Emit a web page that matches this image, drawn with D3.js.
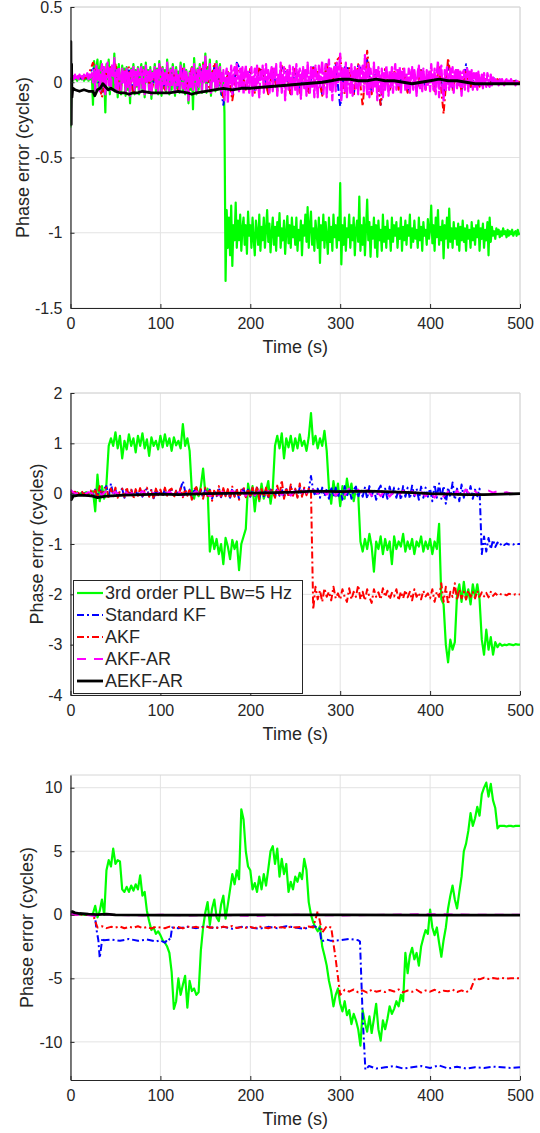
<!DOCTYPE html>
<html><head><meta charset="utf-8">
<script src="https://cdn.jsdelivr.net/npm/d3@7"></script>
<style>
html,body{margin:0;padding:0;background:#fff;}
svg text{font-family:"Liberation Sans",Arial,Helvetica,sans-serif;fill:#262626;}
</style></head>
<body>
<svg id="chart" width="540" height="1133"></svg>
<script>
// ---------------- DATA ----------------
const seriesNames = ["3rd order PLL Bw=5 Hz","Standard KF","AKF","AKF-AR","AEKF-AR"];
const timeTicks = [0,100,200,300,400,500];
const p1YTicks = [-1.5,-1,-0.5,0,0.5];
const p2YTicks = [-4,-3,-2,-1,0,1,2];
const p3YTicks = [-10,-5,0,5,10];

// Panel 1 — uniform samples (1.25 s for PLL / AKF-AR, 5 s for KF / AKF)
const p1Green = [
-0.3,0.03,0.01,0.04,0.02,0.03,0.01,0.04,0.02,0.03,
0.02,0.04,0.01,0.03,0.02,0.04,0.01,0.03,0.02,0.05,
-0.15,0.14,-0.05,0.1,0.15,-0.04,0.08,0.14,-0.06,0.1,
0.05,-0.2,0.12,0.02,0.15,-0.08,0.1,0.06,-0.04,0.19,
-0.06,0.1,-0.1,0.12,0.0,-0.08,0.11,0.03,0.09,-0.09,
0.1,-0.05,0.07,-0.14,0.09,0.02,0.12,-0.08,0.08,-0.03,
0.1,-0.08,0.06,0.12,-0.06,0.1,-0.1,0.13,0.01,0.08,
-0.07,0.1,-0.11,0.07,0.03,0.12,-0.06,0.09,-0.08,0.14,
0.04,-0.09,0.1,-0.04,0.08,-0.07,0.15,0.01,-0.08,0.09,
-0.05,0.12,0.05,-0.09,0.1,-0.04,0.07,-0.07,0.13,0.03,
-0.06,0.12,-0.08,0.08,0.02,-0.14,0.07,-0.05,0.1,-0.18,
0.16,0.03,-0.08,0.09,-0.05,0.12,0.05,-0.07,0.13,0.01,
0.19,-0.07,0.1,0.03,0.15,-0.09,0.07,0.01,0.1,-0.06,
0.14,-0.05,0.08,0.12,-0.08,0.06,0.04,-0.2,-1.32,-0.85,
-1.1,-0.9,-1.15,-0.82,-1.22,-0.95,-1.05,-0.8,-1.1,-0.92,
-1.05,-0.88,-1.12,-0.97,-0.9,-1.08,-0.95,-1.14,-0.86,-1.02,
-0.95,-1.1,-0.9,-1.04,-1.15,-0.92,-1.0,-1.08,-0.88,-1.12,
-0.96,-1.05,-0.9,-1.1,-0.98,-0.85,-1.06,-0.94,-1.13,-1.0,
-0.9,-1.08,-0.96,-1.12,-0.93,-1.02,-0.87,-1.1,-0.97,-1.05,
-0.92,-1.14,-1.0,-0.89,-1.07,-0.95,-1.1,-0.9,-1.03,-0.96,
-1.08,-0.9,-1.12,-0.98,-1.05,-0.92,-1.15,-0.95,-1.02,-0.88,
-1.06,-0.83,-1.1,-0.95,-0.86,-1.08,-0.97,-1.12,-0.92,-1.0,
-1.1,-0.9,-1.2,-0.95,-1.05,-0.88,-1.1,-0.93,-1.02,-1.14,
-0.9,-1.06,-0.96,-1.12,-0.88,-1.03,-0.95,-1.1,-0.9,-1.05,
-0.67,-1.21,-0.95,-1.08,-0.9,-1.12,-0.97,-1.03,-0.88,-1.1,
-0.95,-1.05,-0.9,-1.15,-0.98,-0.92,-1.06,-0.76,-1.12,-0.95,
-1.08,-0.9,-1.15,-0.97,-0.78,-1.05,-0.93,-1.16,-0.96,-1.04,
-0.9,-1.1,-0.95,-1.16,-0.92,-1.05,-0.98,-1.12,-0.88,-1.06,
-0.96,-1.1,-0.92,-1.04,-0.98,-1.12,-0.9,-1.06,-0.95,-1.02,
-0.93,-1.1,-0.97,-1.04,-0.9,-1.12,-0.96,-1.05,-0.92,-1.08,
-0.95,-1.02,-0.88,-1.1,-0.97,-1.06,-0.92,-1.04,-0.98,-1.1,
-0.9,-1.05,-0.96,-1.12,-0.93,-1.02,-0.98,-1.08,-0.91,-1.04,
-0.98,-0.82,-1.07,-0.95,-1.12,-0.9,-1.03,-0.85,-1.08,-0.96,
-1.05,-0.92,-1.17,-0.95,-1.04,-0.9,-1.1,-0.84,-1.06,-0.97,
-1.1,-0.93,-1.04,-0.97,-1.08,-0.94,-1.12,-0.96,-1.05,-0.92,
-1.06,-0.97,-1.12,-0.95,-1.04,-0.98,-1.1,-0.93,-1.05,-0.97,
-1.08,-0.95,-1.03,-0.92,-1.12,-0.97,-1.04,-0.94,-1.1,-0.98,
-1.05,-0.93,-1.15,-0.9,-1.06,-0.96,-1.02,-0.99,-1.04,-0.97,
-1.01,-0.98,-1.03,-0.99,-1.02,-0.97,-1.01,-0.99,-1.03,-0.98,
-1.02,-0.99,-1.01,-0.98,-1.02,-1.0,-0.99,-1.02,-0.98,-1.01,
-1.0];
const p1Blue = [
0.02,0.03,0.03,0.02,0.04,0.1,0.02,-0.08,0.05,0.09,
0.1,-0.05,0.06,0.08,-0.07,0.04,0.07,0.05,-0.05,0.06,
0.09,-0.04,0.07,0.05,-0.05,0.08,-0.03,0.09,0.05,0.08,
0.12,-0.05,0.1,0.04,-0.15,0.06,-0.1,0.13,0.07,-0.04,
0.08,-0.06,0.09,0.05,-0.07,0.08,-0.05,0.1,0.07,-0.08,
0.09,-0.06,0.08,-0.07,0.1,0.06,-0.08,0.12,-0.05,0.12,
-0.16,0.1,0.09,-0.08,0.11,0.08,0.15,-0.07,0.08,-0.15,
0.09,-0.05,0.07,-0.04,0.08,-0.06,0.07,-0.05,0.08,-0.04,
0.07,-0.05,0.09,-0.08,0.12,-0.04,0.07,-0.05,0.12,-0.03,
0.04,-0.03,0.03,-0.02,0.03,0.01,-0.01,0.01,0.0,0.01,
0.0];
const p1Red = [
0.02,0.03,0.04,0.02,0.05,0.13,0.04,-0.1,0.06,0.1,
0.12,-0.06,0.07,0.1,-0.08,0.05,0.08,0.06,-0.06,0.07,
0.1,-0.05,0.08,0.06,-0.06,0.09,-0.04,0.1,0.06,0.09,
0.14,-0.06,0.13,0.05,-0.1,0.07,-0.12,0.06,0.09,-0.05,
0.09,-0.07,0.1,0.06,-0.08,0.09,-0.06,0.11,0.08,-0.09,
0.1,-0.07,0.09,-0.08,0.11,0.07,-0.09,0.13,-0.06,0.14,
0.17,-0.08,0.1,-0.09,0.12,-0.16,0.21,-0.08,0.09,-0.15,
0.1,-0.06,0.08,-0.05,0.09,-0.07,0.08,-0.06,0.09,-0.05,
0.08,-0.06,0.1,-0.21,0.16,-0.05,0.08,-0.06,0.07,-0.04,
0.05,-0.03,0.04,-0.02,0.03,0.02,-0.01,0.01,0.0,0.01,
0.0];
const p1Magenta = [
0.02,0.03,0.04,0.02,0.05,0.03,0.04,0.02,0.05,0.03,
0.04,0.02,0.05,0.03,0.04,0.06,0.02,0.05,0.03,0.06,
0.0,0.08,-0.05,0.11,0.02,0.09,-0.06,0.06,0.12,-0.03,
0.1,-0.08,0.07,0.13,-0.02,0.09,-0.05,0.12,0.04,0.16,
-0.04,0.08,-0.07,0.1,0.02,-0.05,0.09,0.0,0.07,-0.06,
0.09,-0.03,0.06,-0.09,0.08,0.01,0.1,-0.05,0.07,-0.02,
0.09,-0.06,0.05,0.1,-0.04,0.08,-0.08,0.11,0.0,0.07,
-0.05,0.09,-0.09,0.06,0.02,0.1,-0.04,0.08,-0.06,0.12,
0.03,-0.07,0.09,-0.02,0.07,-0.05,0.13,0.0,-0.06,0.08,
-0.03,0.1,0.04,-0.07,0.09,-0.02,0.06,-0.05,0.11,0.02,
-0.04,0.1,-0.06,0.07,0.01,-0.12,0.06,-0.03,0.09,-0.05,
0.12,0.02,-0.06,0.08,-0.03,0.1,0.04,-0.05,0.11,0.0,
0.17,-0.05,0.09,0.02,0.12,-0.07,0.06,0.0,0.08,-0.04,
0.12,-0.03,0.07,0.1,-0.06,0.05,0.08,-0.12,0.04,0.09,
-0.14,0.06,-0.02,0.11,-0.08,0.07,0.1,-0.05,0.12,0.02,
-0.06,0.09,-0.03,0.1,-0.08,0.05,0.11,-0.04,0.08,-0.07,
0.06,0.1,-0.09,0.03,0.09,-0.05,0.11,0.0,-0.1,0.07,
0.02,0.11,-0.07,0.06,0.12,-0.04,0.08,-0.08,0.05,0.1,
-0.06,0.09,0.02,0.12,-0.09,0.06,-0.02,0.13,-0.07,0.05,
0.1,-0.12,0.04,0.09,-0.05,0.11,0.0,-0.08,0.1,0.03,
-0.05,0.12,-0.08,0.06,0.09,-0.11,0.05,0.1,-0.04,0.08,
-0.09,0.13,0.01,-0.07,0.1,-0.03,0.08,-0.1,0.11,0.02,
-0.1,0.11,-0.04,0.07,0.14,-0.08,0.05,0.12,-0.1,0.06,
0.15,-0.05,0.09,-0.12,0.07,0.11,-0.06,0.13,0.0,0.09,
0.19,-0.12,0.06,0.1,-0.06,0.13,-0.1,0.08,0.02,-0.07,
0.12,-0.09,0.06,0.1,-0.04,0.09,-0.08,0.11,-0.02,0.07,
0.11,-0.06,0.18,0.03,-0.08,0.12,-0.1,0.09,0.01,-0.06,
0.13,-0.04,0.08,-0.12,0.1,0.02,-0.07,0.09,-0.1,0.06,
-0.05,0.11,0.02,-0.09,0.08,-0.03,0.1,-0.07,0.06,0.12,
-0.05,0.08,-0.02,0.1,-0.08,0.07,0.0,0.09,-0.06,0.05,
-0.04,0.09,-0.07,0.06,0.1,-0.05,0.08,0.01,-0.09,0.07,
0.11,-0.04,0.07,-0.06,0.09,0.0,-0.05,0.08,-0.03,0.07,
-0.06,0.12,0.02,-0.05,0.09,-0.08,0.06,0.14,-0.1,0.08,
0.11,-0.04,-0.12,0.08,-0.06,0.1,0.02,-0.05,0.09,-0.03,
0.1,-0.07,0.06,0.09,-0.04,0.08,-0.02,0.07,-0.09,0.06,
0.08,-0.05,0.04,0.09,-0.06,0.07,0.0,0.08,-0.05,0.06,
-0.03,0.06,-0.05,0.07,0.01,-0.02,0.05,-0.04,0.06,0.0,
-0.03,0.06,0.02,-0.03,0.05,-0.02,0.03,0.0,0.02,-0.01,
0.01,-0.02,0.02,-0.01,0.02,0.0,-0.02,0.01,0.02,-0.01,
0.01,-0.01,0.02,0.0,-0.01,0.01,-0.02,0.01,0.0,-0.01,
0.0];
const p1BlackT = [0,0.4,0.8,1.2,1.6,2.5,5,10,15,20,25,27,30,33,36,39,42,45,50,55,60,65,70,75,80,90,100,110,120,130,135,140,150,160,170,180,190,200,220,240,260,280,290,300,310,320,330,340,350,360,370,380,390,400,410,420,430,440,450,460,470,480,490,500];
const p1BlackV = [0.0,0.27,-0.28,0.12,-0.1,-0.04,-0.05,-0.06,-0.05,-0.06,-0.06,-0.09,-0.05,-0.04,-0.01,-0.03,-0.05,-0.04,-0.06,-0.07,-0.07,-0.08,-0.07,-0.07,-0.06,-0.07,-0.07,-0.07,-0.06,-0.07,-0.08,-0.07,-0.06,-0.05,-0.04,-0.05,-0.04,-0.04,-0.03,-0.02,-0.01,0.0,0.01,0.02,0.02,0.01,0.01,0.02,0.01,0.01,0.0,-0.01,0.0,0.01,0.02,0.01,0.01,0.0,-0.01,-0.01,-0.01,-0.01,-0.01,-0.01];

// Panel 2 — uniform 2.5 s samples (5 s for AKF-AR)
const p2Green = [
0.0,0.02,-0.03,0.03,-0.02,0.02,0.0,0.03,-0.02,0.02,
0.05,-0.35,0.38,-0.15,0.15,-0.1,0.2,0.95,1.1,0.95,
1.22,0.9,1.15,0.7,1.05,0.88,1.18,0.95,1.1,0.82,
1.15,0.95,1.2,0.9,1.08,0.75,1.12,0.95,1.05,0.88,
1.15,0.92,1.18,0.95,1.1,0.85,1.12,0.96,1.05,0.9,
1.38,0.95,1.1,0.85,0.05,-0.1,0.12,-0.05,0.15,0.5,
0.0,0.1,-1.15,-0.85,-1.1,-0.9,-1.2,-1.0,-1.4,-0.88,
-1.05,-1.3,-0.92,-1.1,-0.95,-1.52,-1.0,-0.85,-0.7,0.2,
-0.05,0.15,-0.35,0.1,-0.15,0.2,-0.1,0.05,0.25,-0.2,
0.1,0.95,1.15,0.9,1.2,0.7,1.1,0.92,1.15,0.85,
1.1,0.9,1.18,0.95,1.05,0.85,1.12,1.6,0.98,1.15,
0.9,1.1,0.95,1.25,0.85,0.1,-0.2,0.25,-0.05,0.2,
-0.25,0.15,-0.1,0.3,0.0,0.2,-0.15,0.1,0.0,-0.95,
-1.15,-0.9,-1.1,-0.8,-1.05,-1.55,-0.95,-1.1,-0.85,-1.2,
-0.9,-1.12,-0.95,-1.4,-0.85,-1.1,-0.95,-1.05,-0.8,-1.15,
-0.95,-1.1,-0.9,-1.2,-0.95,-1.05,-0.85,-1.15,-0.95,-1.1,
-0.9,-1.2,-0.95,-1.1,-0.6,-2.1,-2.2,-3.0,-3.35,-2.9,
-3.1,-2.95,-2.0,-1.8,-2.15,-1.75,-2.1,-1.9,-2.2,-1.8,
-2.05,-1.8,-2.1,-2.9,-3.2,-2.7,-3.1,-2.85,-3.2,-2.95,
-3.05,-2.98,-3.02,-3.0,-3.01,-2.99,-3.0,-3.01,-2.99,-3.0,
-3.0];
const p2Blue = [
0.05,0.0,0.03,-0.02,0.02,0.04,-0.03,0.05,0.0,0.04,
-0.04,0.08,-0.06,0.12,-0.05,0.1,0.15,-0.06,0.2,-0.03,
0.08,-0.06,0.05,0.1,-0.08,0.06,-0.03,0.09,-0.07,0.05,
-0.03,0.08,-0.06,0.05,0.1,-0.05,0.07,-0.09,0.08,-0.02,
0.06,-0.05,0.09,-0.03,0.05,0.08,-0.06,0.05,-0.04,0.1,
0.25,0.05,-0.03,0.08,-0.1,0.06,0.1,-0.05,0.07,-0.08,
0.1,-0.04,0.08,-0.1,0.06,-0.05,0.12,-0.07,0.09,-0.04,
0.07,-0.08,0.1,-0.05,0.08,-0.1,0.06,0.1,-0.06,0.08,
-0.06,0.1,-0.04,0.12,-0.09,0.07,-0.05,0.1,-0.07,0.08,
0.05,-0.06,0.12,-0.04,0.1,-0.08,0.09,-0.05,0.14,-0.03,
0.08,-0.06,0.12,-0.04,0.1,-0.02,0.08,0.35,0.05,-0.05,
0.1,-0.08,0.12,-0.05,0.09,-0.1,0.14,-0.06,0.12,-0.08,
0.1,-0.12,0.15,-0.06,0.12,-0.1,0.08,0.14,-0.08,0.1,
-0.06,0.12,-0.1,0.15,-0.05,0.1,-0.12,0.08,0.16,-0.07,
0.1,-0.1,0.14,-0.05,0.12,-0.08,0.1,-0.12,0.15,-0.06,
0.12,-0.1,0.16,-0.05,0.1,-0.12,0.14,-0.08,0.12,-0.06,
0.1,-0.15,0.18,-0.08,0.2,-0.1,0.15,-0.2,0.12,-0.06,
0.22,-0.12,0.1,-0.15,0.18,-0.08,0.12,-0.06,0.15,-0.1,
0.08,-0.05,0.1,-1.2,-0.85,-1.15,-0.88,-1.1,-0.92,-1.06,
-0.97,-1.03,-0.98,-1.02,-0.99,-1.01,-1.0,-1.01,-0.99,-1.0,
-1.0];
const p2Red = [
0.05,0.02,0.04,-0.02,0.03,0.05,-0.03,0.04,0.0,0.06,
-0.05,0.1,-0.08,0.15,-0.06,0.08,0.12,-0.1,0.1,-0.05,
0.12,-0.08,0.06,0.1,-0.06,0.13,-0.05,0.08,-0.1,0.09,
-0.04,0.11,-0.08,0.07,0.12,-0.06,0.09,-0.11,0.1,-0.03,
0.08,-0.06,0.12,-0.04,0.07,0.1,-0.08,0.06,-0.05,0.11,
-0.07,0.09,-0.04,0.1,-0.12,0.08,0.13,-0.06,0.09,-0.1,
0.12,-0.05,0.1,-0.14,0.08,-0.06,0.15,-0.09,0.11,-0.05,
0.09,-0.1,0.14,-0.06,0.1,-0.12,0.08,0.13,-0.07,0.1,
-0.08,0.12,-0.05,0.15,-0.11,0.09,-0.06,0.12,-0.09,0.1,
0.06,-0.08,0.16,-0.05,0.27,-0.1,0.12,-0.07,0.18,-0.04,
0.1,-0.08,0.2,-0.06,0.12,-0.03,0.1,0.05,-2.3,-1.85,
-2.1,-1.92,-2.15,-1.88,-2.05,-1.95,-2.12,-1.85,-2.08,-1.98,
-2.1,-1.9,-2.05,-2.15,-1.88,-2.1,-1.95,-2.05,-1.82,-2.1,
-1.95,-2.12,-1.9,-2.05,-2.17,-1.9,-2.05,-1.96,-2.1,-1.88,
-2.05,-1.93,-2.1,-1.97,-2.04,-1.9,-2.12,-1.95,-2.08,-1.92,
-2.06,-1.95,-2.12,-1.9,-2.05,-1.97,-2.1,-1.93,-2.04,-1.98,
-2.08,-1.9,-2.15,-1.95,-2.05,-1.78,-2.15,-1.85,-2.2,-1.95,
-2.05,-1.78,-2.12,-1.9,-2.08,-1.95,-2.1,-1.92,-2.05,-1.95,
-2.08,-1.93,-2.05,-1.96,-2.04,-1.97,-2.06,-1.95,-2.03,-1.98,
-2.02,-1.99,-2.01,-2.0,-2.02,-1.99,-2.0,-2.01,-2.0,-2.01,
-2.0];
const p2Magenta = [
0.08,0.0,0.02,-0.02,0.03,0.0,0.05,-0.03,0.06,-0.02,
0.04,-0.04,0.05,-0.02,0.03,-0.04,0.05,-0.02,0.04,-0.03,
0.05,-0.02,0.04,-0.03,0.05,-0.04,0.03,-0.02,0.05,-0.03,
0.04,-0.05,0.06,-0.03,0.05,-0.04,0.06,-0.02,0.05,-0.04,
0.05,-0.03,0.06,-0.04,0.05,-0.03,0.07,-0.02,0.06,-0.04,
0.06,-0.02,0.07,-0.03,0.08,0.0,0.09,-0.02,0.1,-0.04,
0.08,-0.03,0.1,0.0,0.08,-0.02,0.07,-0.04,0.06,-0.05,
0.07,-0.06,0.05,-0.04,0.06,-0.05,0.05,-0.06,0.04,-0.05,
0.04,-0.08,0.05,-0.06,0.04,-0.07,0.06,-0.05,0.08,-0.04,
0.05,-0.03,0.04,0.06,0.02,0.05,0.01,0.03,0.0,0.01,
0.0];
const p2BlackT = [0,1,3,10,20,25,30,33,40,50,60,80,100,120,150,200,250,270,300,330,350,380,400,420,440,460,480,500];
const p2BlackV = [0.0,-0.12,-0.05,-0.03,-0.04,-0.05,-0.08,-0.07,-0.05,-0.04,-0.03,-0.02,-0.01,-0.02,0.0,0.01,0.03,0.05,0.04,0.05,0.04,0.02,0.0,-0.01,-0.02,-0.02,-0.01,0.0];

// Panel 3
const p3Green = [
0.0,0.05,0.0,0.05,0.0,0.05,0.0,0.02,0.0,0.03,
0.1,0.7,-0.2,0.3,1.2,0.0,3.5,4.3,3.8,5.2,
4.0,4.3,4.2,2.0,1.8,2.2,1.8,2.3,1.9,2.4,
2.0,3.1,1.5,1.8,0.3,-0.5,-1.2,-1.0,-1.5,-1.3,
-1.6,-2.0,-2.2,-2.5,-3.0,-4.5,-7.4,-6.8,-5.0,-6.3,
-5.5,-4.8,-7.3,-5.2,-6.0,-5.8,-6.3,-6.1,-2.8,-1.0,
0.2,1.0,-0.8,0.5,1.2,-0.2,-0.5,0.8,1.5,-0.3,
0.8,2.0,3.2,2.4,3.5,2.8,8.3,7.5,5.0,3.8,
3.5,2.0,2.5,1.8,3.0,2.0,3.2,2.3,3.6,5.0,
5.4,4.0,5.2,3.0,4.4,3.2,4.0,1.8,2.6,2.0,
3.0,2.6,3.3,2.8,4.4,3.5,1.0,0.0,-0.6,-1.0,
-1.3,-0.9,-2.5,-3.2,-4.0,-5.2,-6.0,-7.2,-6.3,-5.8,
-7.0,-7.6,-6.8,-7.9,-7.5,-8.6,-7.8,-8.3,-9.0,-10.3,
-7.5,-8.5,-9.2,-8.0,-9.3,-8.2,-7.0,-9.0,-9.9,-8.3,
-9.0,-8.2,-7.2,-7.8,-7.4,-6.8,-7.2,-6.3,-6.8,-3.0,
-4.6,-3.2,-2.6,-3.5,-3.0,-4.0,-2.5,-1.8,-1.2,-1.5,
0.4,-1.0,-1.6,-1.0,-2.2,-3.3,-2.0,-1.0,0.5,1.5,
2.3,1.2,0.5,1.8,3.0,5.0,5.6,6.6,8.0,7.0,
7.6,8.5,7.8,9.5,10.0,10.4,9.3,10.3,9.0,8.4,
6.8,7.0,7.0,7.0,6.95,7.0,7.0,6.95,7.0,7.0,
7.0];
const p3BlueT = [0,10,20,27,29,31,32.5,34,35.5,37,45,55,65,75,85,95,100,105,109,111,113,120,130,140,150,160,170,180,190,200,210,220,230,240,250,260,270,277,279,285,290,300,310,320,322,325,328,332,340,350,360,370,380,390,400,410,420,430,440,450,460,470,480,490,500];
const p3BlueV = [0.1,0.05,0,0,-1.2,-2.0,-3.4,-2.6,-1.8,-2.0,-1.95,-2.05,-1.9,-2.05,-1.95,-2.1,-2.0,-2.2,-1.85,-2.0,-1.0,-1.05,-0.95,-1.05,-0.9,-1.05,-0.95,-1.1,-0.95,-1.0,-1.1,-0.95,-1.05,-0.9,-1.0,-1.1,-0.9,-1.0,-2.1,-1.95,-2.05,-2.0,-1.9,-2.0,-2.1,-8.0,-12.2,-11.9,-12.1,-12.0,-11.9,-12.1,-12.0,-11.9,-12.05,-11.85,-12.1,-11.95,-12.1,-12.0,-12.05,-11.95,-12.0,-12.05,-12.0];
const p3Red = [
0.05,0.0,0.02,0.0,0.0,0.0,-1.0,-0.9,-1.05,-0.95,
-1.0,-0.92,-1.06,-0.95,-1.02,-0.9,-1.05,-0.97,-1.08,-0.94,
-1.0,-1.06,-0.93,-1.02,-0.96,-1.07,-0.92,-1.0,-0.95,-1.05,
-0.9,-1.02,-0.96,-1.06,-0.93,-1.0,-0.88,-1.04,-0.97,-1.02,
-0.95,-1.05,-0.92,-1.0,-1.06,-0.94,-1.02,-0.97,-1.05,-0.93,
-1.0,-0.96,-1.04,-0.92,-1.0,0.3,-1.4,-0.9,-1.0,-3.5,
-6.3,-5.9,-6.05,-5.88,-6.1,-5.95,-6.12,-5.9,-6.05,-5.97,
-6.08,-5.92,-6.04,-5.87,-6.1,-5.96,-6.06,-5.9,-6.12,-5.95,
-6.05,-5.9,-6.1,-5.97,-6.02,-5.88,-6.08,-5.95,-6.1,-5.9,
-5.0,-5.08,-4.95,-5.05,-4.98,-5.03,-4.97,-5.02,-5.0,-4.98,
-5.0];
const p3MagentaT = [0,5,15,27,30,50,80,100,130,160,200,250,300,350,400,450,500];
const p3MagentaV = [0.05,0.0,0.02,-0.1,0.05,0.0,-0.05,0.0,-0.05,0.0,-0.08,0.0,-0.05,0.0,0.05,0.0,0.0];
const p3BlackT = [0,2,5,10,20,30,40,50,100,150,200,300,400,500];
const p3BlackV = [0.2,0.25,0.15,0.1,0.05,0.02,0.05,0.0,-0.02,-0.02,0.0,0.0,-0.02,-0.02];

// ---------------- BUILD ----------------
const uniform = (vals, step) => vals.map((v,i)=>[i*step, v]);
const paired = (ts, vs) => ts.map((t,i)=>[t, vs[i]]);

const styles = [
  {color:"#00ff00", dash:null, width:2.2},
  {color:"#0000ff", dash:"7,3,2,3", width:2},
  {color:"#ff0000", dash:"7,3,2,3", width:2},
  {color:"#ff00ff", dash:"9,8", width:2},
  {color:"#000000", dash:null, width:2.8}
];

const panels = [
  {top:7, bottom:308, domain:[-1.5,0.5], ticks:p1YTicks, ylabX:23,
   override:{3:{dash:"12,2", width:2.3}},
   series:[uniform(p1Green,1.25), uniform(p1Blue,5), uniform(p1Red,5), uniform(p1Magenta,1.25), paired(p1BlackT,p1BlackV)]},
  {top:393, bottom:695, domain:[-4,2], ticks:p2YTicks, ylabX:37, legend:true,
   series:[uniform(p2Green,2.5), uniform(p2Blue,2.5), uniform(p2Red,2.5), uniform(p2Magenta,5), paired(p2BlackT,p2BlackV)]},
  {top:775, bottom:1080, domain:[-13,11], ticks:p3YTicks, ylabX:27,
   series:[uniform(p3Green,2.5), paired(p3BlueT,p3BlueV), uniform(p3Red,5), paired(p3MagentaT,p3MagentaV), paired(p3BlackT,p3BlackV)]}
];

const left = 70.5, right = 520;
const svg = d3.select("#chart");
const x = d3.scaleLinear().domain([0,500]).range([left,right]);

panels.forEach((p,pi)=>{
  const y = d3.scaleLinear().domain(p.domain).range([p.bottom,p.top]);
  const g = svg.append("g");
  g.selectAll(".vg").data(timeTicks).join("line")
    .attr("x1",d=>x(d)).attr("x2",d=>x(d)).attr("y1",p.top).attr("y2",p.bottom)
    .attr("stroke","#e3e3e3").attr("stroke-width",1);
  g.selectAll(".hg").data(p.ticks).join("line")
    .attr("x1",left).attr("x2",right).attr("y1",d=>y(d)).attr("y2",d=>y(d))
    .attr("stroke","#e3e3e3").attr("stroke-width",1);
  g.append("line").attr("x1",left).attr("x2",right).attr("y1",p.top).attr("y2",p.top).attr("stroke","#d6d6d6");
  g.append("line").attr("x1",right).attr("x2",right).attr("y1",p.top).attr("y2",p.bottom).attr("stroke","#d6d6d6");

  const cid = "clip"+pi;
  svg.append("clipPath").attr("id",cid).append("rect")
    .attr("x",left).attr("y",p.top-2).attr("width",right-left).attr("height",p.bottom-p.top+4);
  const line = d3.line().x(d=>x(d[0])).y(d=>y(d[1]));
  const lg = g.append("g").attr("clip-path",`url(#${cid})`);
  p.series.forEach((s,si)=>{
    const st = Object.assign({}, styles[si], (p.override||{})[si]||{});
    lg.append("path").datum(s).attr("d",line).attr("fill","none")
      .attr("stroke",st.color).attr("stroke-width",st.width)
      .attr("stroke-linejoin","round")
      .attr("stroke-dasharray",st.dash);
  });

  const yAxis = d3.axisLeft(y).tickValues(p.ticks).tickFormat(d=>String(d)).tickSizeInner(-4).tickSizeOuter(0).tickPadding(8);
  const xAxis = d3.axisBottom(x).tickValues(timeTicks).tickFormat(d=>String(d)).tickSizeInner(-4).tickSizeOuter(0).tickPadding(10);
  const ya = g.append("g").attr("transform",`translate(${left},0)`).call(yAxis);
  const xa = g.append("g").attr("transform",`translate(0,${p.bottom})`).call(xAxis);
  [ya,xa].forEach(a=>{
    a.select(".domain").attr("stroke","#262626").attr("stroke-width",1.2);
    a.selectAll(".tick line").attr("stroke","#262626");
    a.selectAll("text").attr("font-size",16).attr("fill","#262626")
      .attr("font-family",'"Liberation Sans",Arial,sans-serif');
  });
  g.append("text").attr("x",(left+right)/2).attr("y",p.bottom+45)
    .attr("text-anchor","middle").attr("font-size",18).text("Time (s)");
  g.append("text").attr("transform",`translate(${p.ylabX},${(p.top+p.bottom)/2}) rotate(-90)`)
    .attr("text-anchor","middle").attr("dominant-baseline","central").attr("font-size",18)
    .text("Phase error (cycles)");

  if(p.legend){
    const lx=73.5, ly=580.5, lw=229, lh=113;
    const leg = g.append("g");
    leg.append("rect").attr("x",lx).attr("y",ly).attr("width",lw).attr("height",lh)
      .attr("fill","#fff").attr("stroke","#262626").attr("stroke-width",1);
    seriesNames.forEach((n,i)=>{
      const yy = 593 + i*22;
      const st = styles[i];
      leg.append("line").attr("x1",77).attr("x2",103).attr("y1",yy).attr("y2",yy)
        .attr("stroke",st.color).attr("stroke-width",st.width).attr("stroke-dasharray",st.dash);
      leg.append("text").attr("x",105).attr("y",yy).attr("dominant-baseline","central")
        .attr("font-size",18).text(n);
    });
  }
});
</script>
</body></html>
